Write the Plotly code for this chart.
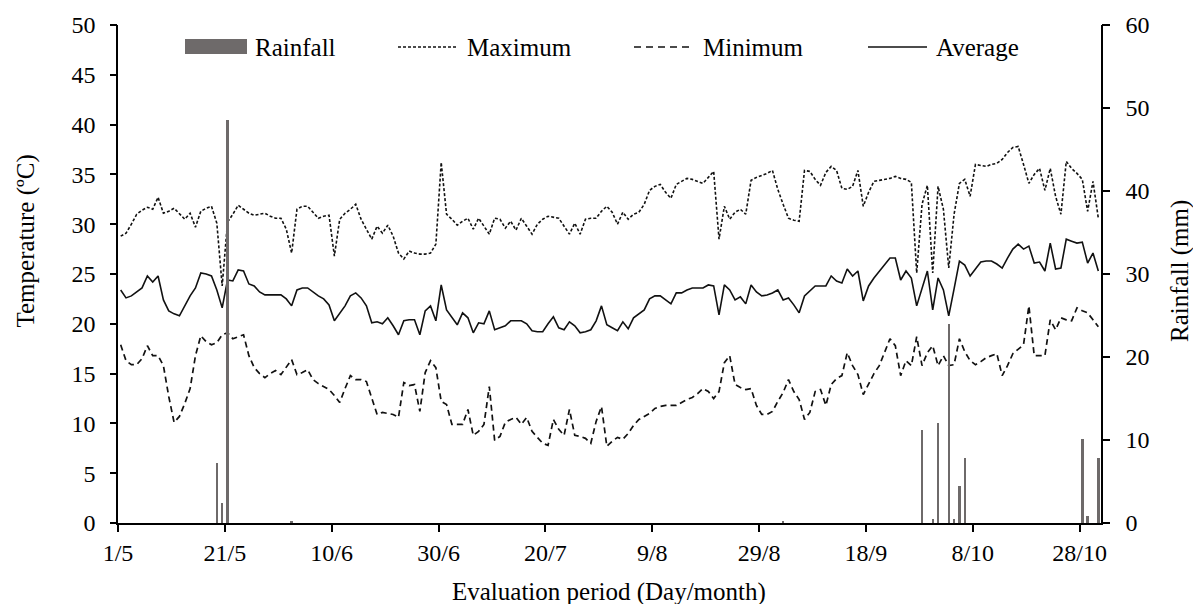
import plotly.graph_objects as go

# ---- data (daily values from 1/5, index = day offset) ----
tick_days = [0, 20, 40, 60, 80, 100, 120, 140, 160, 180]
tick_labels = ['1/5', '21/5', '10/6', '30/6', '20/7', '9/8', '29/8', '18/9', '8/10', '28/10']

t_max = [28.8, 29.1, 30.0, 31.0, 31.4, 31.7, 31.5, 32.7, 31.1, 31.3,
         31.6, 31.0, 30.5, 31.1, 29.7, 31.3, 31.6, 31.8, 30.1, 23.8,
         30.2, 31.0, 31.9, 31.5, 31.1, 30.9, 31.0, 31.1, 30.8, 30.6,
         30.6, 29.5, 27.1, 31.5, 31.8, 31.8, 31.2, 30.6, 30.8, 30.9,
         26.8, 30.5, 31.1, 31.5, 32.0, 30.5, 29.5, 28.5, 29.8, 29.1,
         29.9, 28.8, 27.1, 26.5, 27.3, 27.1, 27.0, 27.0, 27.1, 28.0,
         36.2, 31.0, 30.5, 29.9, 30.3, 30.6, 29.5, 30.6, 29.8, 29.0,
         30.6, 30.5, 29.6, 30.3, 29.4, 30.6, 29.8, 29.0, 30.0, 30.5,
         30.8, 30.7, 30.6, 29.8, 29.0, 30.1, 29.0, 30.5, 30.6, 30.6,
         31.3, 31.8, 31.2, 30.0, 31.2, 30.5, 31.0, 31.2, 32.0, 33.4,
         33.8, 34.0, 33.2, 32.6, 34.0, 34.3, 34.6, 34.5, 34.3, 34.1,
         34.7, 35.3, 28.5, 31.8, 30.5, 31.2, 31.5, 31.0, 34.4, 34.7,
         34.9, 35.1, 35.4, 33.5, 32.0, 30.6, 30.4, 30.3, 35.4, 35.3,
         34.5, 33.9, 35.2, 35.8, 35.4, 33.6, 33.5, 33.8, 35.4, 31.8,
         33.2, 34.3, 34.4, 34.5, 34.6, 34.8, 34.6, 34.5, 34.2, 25.1,
         32.0, 33.9, 25.1, 33.8, 31.5, 25.6, 31.0, 34.1, 34.5, 32.8,
         36.0, 35.9, 35.8, 36.0, 36.1, 36.5, 37.2, 37.7, 37.8, 36.0,
         34.1, 35.0, 35.6, 33.4, 35.6, 32.8, 31.0, 36.3, 35.6, 35.1,
         34.5, 31.3, 34.3, 30.6]

t_min = [17.9, 16.3, 15.9, 15.9, 16.5, 17.8, 16.8, 16.8, 15.8, 12.7,
         10.1, 10.7, 12.0, 13.5, 16.8, 18.8, 18.2, 17.9, 18.1, 18.9,
         19.1, 18.5, 18.7, 18.9, 16.8, 15.6, 15.0, 14.6, 15.0, 15.3,
         14.9, 15.6, 16.4, 14.9, 15.1, 15.4, 14.4, 14.0, 13.7, 13.4,
         12.8, 12.1, 13.5, 14.8, 14.4, 14.4, 14.2, 12.5, 10.9, 11.1,
         11.0, 10.9, 10.6, 14.1, 13.8, 13.9, 11.2, 15.1, 16.3, 15.6,
         12.2, 11.9, 9.9, 9.9, 9.9, 11.4, 8.8, 9.2, 9.9, 13.7,
         8.3, 8.7, 10.1, 10.4, 10.6, 9.9, 10.6, 9.2, 8.6, 8.0,
         7.8, 10.4, 9.4, 8.8, 11.4, 8.8, 8.7, 8.5, 8.0, 10.2,
         11.7, 7.7, 8.2, 8.6, 8.4, 9.0, 9.8, 10.4, 10.7, 11.0,
         11.5, 11.7, 11.8, 11.8, 11.8, 12.1, 12.4, 12.6, 13.0, 13.5,
         13.2, 12.5, 13.2, 16.1, 16.8, 13.9, 13.6, 13.4, 13.5, 11.8,
         10.9, 10.9, 11.2, 12.2, 13.1, 14.4, 13.2, 12.4, 10.4, 11.1,
         13.2, 13.4, 11.8, 13.9, 14.5, 14.8, 17.1, 15.8, 14.9, 12.9,
         13.9, 15.0, 15.8, 17.1, 18.5, 17.8, 14.8, 16.3, 15.8, 18.7,
         15.8, 17.1, 17.8, 15.8, 16.8, 15.8, 15.9, 18.5, 17.2, 16.3,
         15.9, 16.2, 16.6, 16.8, 17.0, 14.8, 15.8, 17.0, 17.5, 17.9,
         21.8, 16.8, 16.8, 16.8, 20.4, 19.4, 20.6, 20.4, 20.3, 21.6,
         21.3, 21.1, 20.4, 19.7]

t_avg = [23.4, 22.6, 22.8, 23.2, 23.6, 24.8, 24.2, 24.8, 22.4, 21.3,
         21.0, 20.8, 21.8, 22.8, 23.6, 25.1, 25.0, 24.8, 23.4, 21.6,
         24.4, 24.3, 25.4, 25.3, 24.0, 23.8, 23.2, 22.9, 22.9, 22.9,
         22.9, 22.5, 21.8, 23.4, 23.6, 23.6, 23.2, 22.8, 22.5, 21.9,
         20.3, 21.0, 21.8, 22.8, 23.1, 22.6, 21.8, 20.1, 20.2, 20.0,
         20.6, 19.8, 18.9, 20.3, 20.4, 20.4, 18.9, 21.3, 21.8, 20.3,
         23.9, 21.4, 20.6, 19.9, 21.1, 20.6, 19.1, 20.1, 20.0, 21.3,
         19.4, 19.6, 19.8, 20.3, 20.3, 20.3, 20.0, 19.3, 19.2, 19.2,
         20.0, 20.7, 19.6, 19.4, 20.2, 19.8, 19.1, 19.2, 19.4, 20.3,
         21.8, 19.9, 19.6, 19.3, 20.2, 19.5, 20.6, 21.0, 21.4, 22.5,
         22.8, 22.8, 22.4, 22.0, 23.1, 23.1, 23.4, 23.6, 23.6, 23.6,
         23.9, 23.8, 20.9, 23.9, 23.4, 22.4, 22.7, 22.0, 23.9, 23.2,
         22.8, 22.9, 23.1, 23.4, 22.4, 22.6, 21.9, 21.1, 22.8, 23.3,
         23.8, 23.8, 23.8, 24.8, 24.3, 24.1, 25.5, 24.8, 25.3, 22.3,
         23.8, 24.6, 25.3, 25.9, 26.6, 26.6, 24.4, 25.3, 24.6, 21.8,
         23.5, 25.3, 21.4, 24.6, 23.4, 20.8, 23.5, 26.3, 25.9, 24.8,
         25.5, 26.2, 26.3, 26.3, 26.0, 25.6, 26.6, 27.5, 28.0, 27.5,
         27.8, 26.1, 26.2, 25.3, 28.1, 25.5, 25.6, 28.5, 28.3, 28.1,
         28.2, 26.1, 27.1, 25.3]

rain_days = [18, 19, 20, 32, 124, 150, 152, 153, 155, 156, 157, 158, 180, 181, 183]
rain_mm = [7.2, 2.4, 48.6, 0.2, 0.2, 11.2, 0.5, 12.1, 24.0, 0.5, 4.4, 7.8, 10.1, 0.9, 7.8]

# ---- figure ----
FONT = "Liberation Serif, Times New Roman, serif"
W, H = 1193, 604
ML, MR, MT, MB = 118, 92, 25, 81
PW, PH = W - ML - MR, H - MT - MB
CLEAR = 'rgba(0,0,0,0)'


def px(x):
    return (x - ML) / PW


def py(y):
    return (H - MB - y) / PH


days = [d + 0.5 for d in range(len(t_max))]
rain_x = [d + 0.5 for d in rain_days]

fig = go.Figure()
fig.add_trace(go.Bar(x=rain_x, y=rain_mm, yaxis='y2', width=0.45,
                     marker=dict(color='#6e6a6a', line=dict(width=0)),
                     name='Rainfall', showlegend=False))
fig.add_trace(go.Scatter(x=days, y=t_max, mode='lines', name='Maximum',
                         line=dict(color='#111111', width=1.6, dash='3px,2px'),
                         showlegend=False))
fig.add_trace(go.Scatter(x=days, y=t_min, mode='lines', name='Minimum',
                         line=dict(color='#111111', width=1.7, dash='6px,4px'),
                         showlegend=False))
fig.add_trace(go.Scatter(x=days, y=t_avg, mode='lines', name='Average',
                         line=dict(color='#111111', width=1.6),
                         showlegend=False))
# empty traces so that the tick-mark-only axes are rendered
fig.add_trace(go.Scatter(x=[], y=[], yaxis='y3', showlegend=False, hoverinfo='skip'))
fig.add_trace(go.Scatter(x=[], y=[], yaxis='y4', showlegend=False, hoverinfo='skip'))

tickfont = dict(family=FONT, size=24, color='black')
base = dict(showgrid=False, zeroline=False, ticks='outside', tickwidth=1.5)

fig.update_layout(
    width=W, height=H,
    margin=dict(l=ML, r=MR, t=MT, b=MB),
    paper_bgcolor='white', plot_bgcolor='white',
    font=dict(family=FONT, size=24, color='black'),
    bargap=0,
    xaxis=dict(range=[0, 184], tickmode='array', tickvals=tick_days,
               ticktext=tick_labels, showline=True, linecolor='black',
               linewidth=1.5, ticklen=7, tickcolor='black', tickfont=tickfont,
               **base),
    # labelled axes (transparent long ticks push the labels out)
    yaxis=dict(range=[0, 50], dtick=5, tick0=0, showline=True, linecolor='black',
               linewidth=1.5, ticklen=16, tickcolor=CLEAR, tickfont=tickfont,
               **base),
    yaxis2=dict(range=[0, 60], dtick=10, tick0=0, overlaying='y', side='right',
                showline=True, linecolor='black', linewidth=1.5, ticklen=18,
                tickcolor=CLEAR, tickfont=tickfont, **base),
    # visible short tick marks
    yaxis3=dict(range=[0, 50], dtick=5, tick0=0, overlaying='y', side='left',
                showline=False, ticklen=7, tickcolor='black',
                showticklabels=False, **base),
    yaxis4=dict(range=[0, 60], dtick=10, tick0=0, overlaying='y', side='right',
                showline=False, ticklen=8, tickcolor='black',
                showticklabels=False, **base),
)

# legend drawn manually to mimic original layout
legend_y = 47
shapes = [
    dict(type='rect', xref='paper', yref='paper', x0=px(185), x1=px(247),
         y0=py(54), y1=py(39), fillcolor='#6e6a6a', line=dict(width=0)),
    dict(type='line', xref='paper', yref='paper', x0=px(398), x1=px(456),
         y0=py(legend_y), y1=py(legend_y),
         line=dict(color='#111111', width=1.6, dash='3px,2px')),
    dict(type='line', xref='paper', yref='paper', x0=px(634), x1=px(692),
         y0=py(legend_y), y1=py(legend_y),
         line=dict(color='#111111', width=1.7, dash='7px,5px')),
    dict(type='line', xref='paper', yref='paper', x0=px(868), x1=px(927),
         y0=py(legend_y), y1=py(legend_y),
         line=dict(color='#111111', width=1.6)),
]
fig.update_layout(shapes=shapes)

legend_items = [('Rainfall', 253), ('Maximum', 465), ('Minimum', 701), ('Average', 934)]
for text, xl in legend_items:
    fig.add_annotation(x=px(xl), y=py(legend_y), xref='paper', yref='paper',
                       text=text, showarrow=False, xanchor='left', yanchor='middle',
                       font=dict(family=FONT, size=25, color='black'))

# axis titles
fig.add_annotation(x=px(25.5), y=py(241), xref='paper', yref='paper',
                   text='Temperature (ºC)', textangle=-90, showarrow=False,
                   xanchor='center', yanchor='middle',
                   font=dict(family=FONT, size=25, color='black'))
fig.add_annotation(x=px(1180), y=py(271), xref='paper', yref='paper',
                   text='Rainfall (mm)', textangle=-90, showarrow=False,
                   xanchor='center', yanchor='middle',
                   font=dict(family=FONT, size=25, color='black'))
fig.add_annotation(x=px(609), y=py(592), xref='paper', yref='paper',
                   text='Evaluation period (Day/month)', showarrow=False,
                   xanchor='center', yanchor='middle',
                   font=dict(family=FONT, size=25, color='black'))

fig.write_html("out.html")
